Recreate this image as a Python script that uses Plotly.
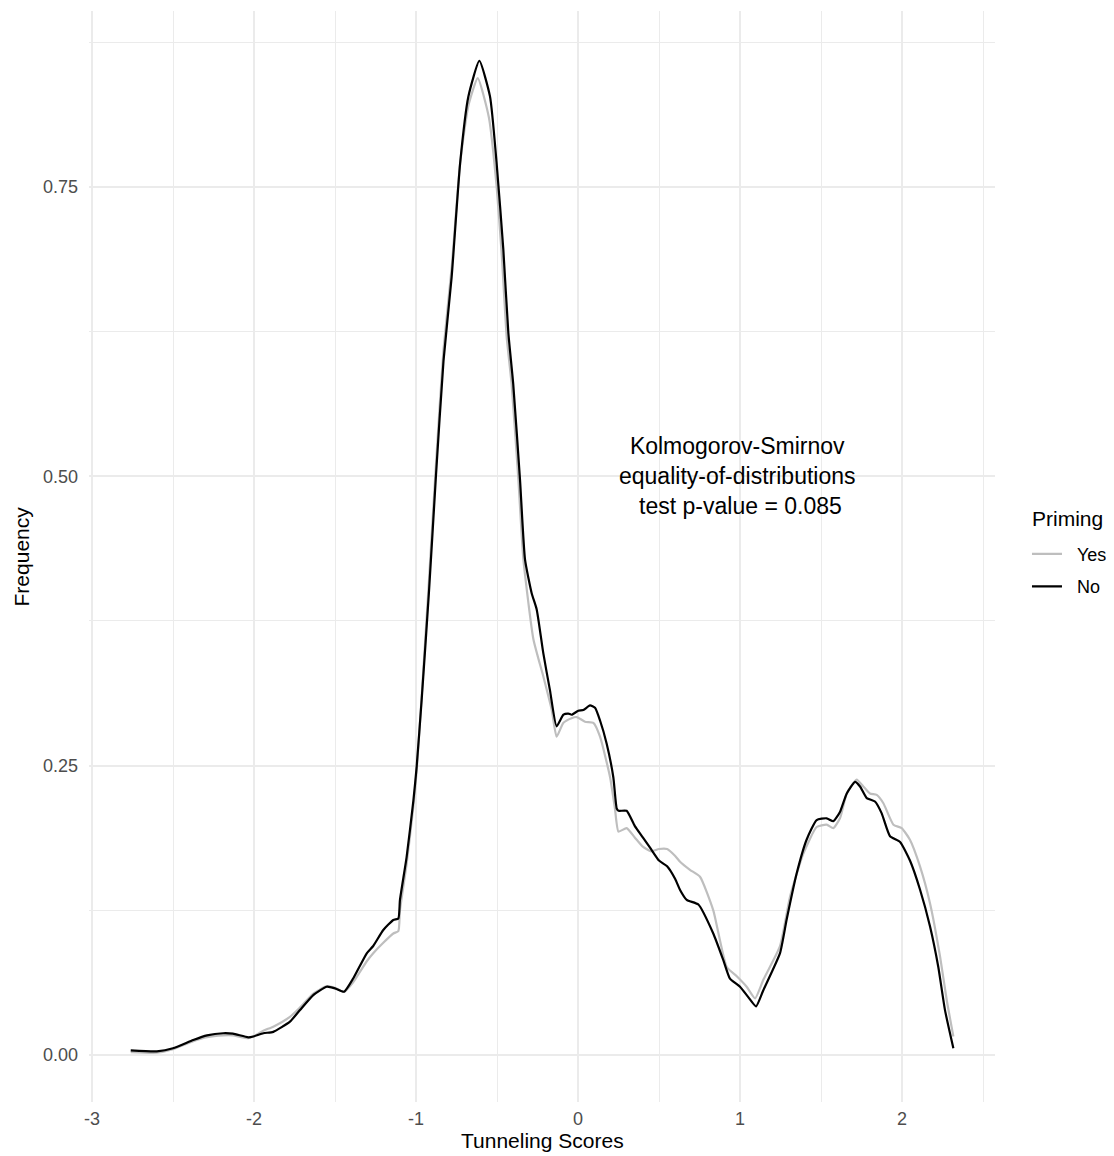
import plotly.graph_objects as go

# Priming = No (black)
no_x = [-2.761, -2.60, -2.50, -2.375, -2.29, -2.19, -2.13, -2.035, -2.004, -1.942, -1.881,
        -1.778, -1.716, -1.634, -1.551, -1.50, -1.444, -1.387, -1.304, -1.264, -1.202, -1.14,
        -1.109, -1.099, -1.058, -1.016, -0.996, -0.965, -0.92, -0.877, -0.83, -0.78, -0.728,
        -0.677, -0.609, -0.543, -0.502, -0.461, -0.43, -0.40, -0.358, -0.327, -0.286, -0.255,
        -0.214, -0.173, -0.132, -0.09, -0.06, -0.039, 0.002, 0.033, 0.074, 0.105, 0.136, 0.177,
        0.218, 0.239, 0.25, 0.30, 0.35, 0.40, 0.45, 0.50, 0.55, 0.60, 0.63, 0.671, 0.743, 0.835,
        0.897, 0.938, 1.0, 1.051, 1.099, 1.144, 1.247, 1.288, 1.35, 1.411, 1.473, 1.535, 1.576,
        1.617, 1.659, 1.71, 1.741, 1.782, 1.833, 1.874, 1.926, 1.988, 2.049, 2.111, 2.173,
        2.224, 2.265, 2.317]
no_y = [0.004, 0.0032, 0.0058, 0.013, 0.017, 0.0188, 0.0184, 0.0153, 0.016, 0.0188, 0.020,
        0.0288, 0.0389, 0.0518, 0.059, 0.0576, 0.0547, 0.0663, 0.0879, 0.0942, 0.108, 0.1167,
        0.118, 0.134, 0.171, 0.220, 0.249, 0.307, 0.40, 0.50, 0.60, 0.672, 0.770,
        0.828, 0.859, 0.828, 0.770, 0.696, 0.624, 0.580, 0.497, 0.428, 0.399, 0.385,
        0.347, 0.315, 0.284, 0.294, 0.295, 0.294, 0.2975, 0.298, 0.302, 0.300, 0.289, 0.269,
        0.240, 0.213, 0.211, 0.211, 0.198, 0.188, 0.178, 0.168, 0.163, 0.152, 0.1426, 0.134, 0.130, 0.105,
        0.082, 0.066, 0.059, 0.050, 0.042, 0.056, 0.088, 0.117, 0.157, 0.186, 0.203, 0.2045, 0.202,
        0.210, 0.226, 0.236, 0.232, 0.222, 0.219, 0.209, 0.189, 0.184, 0.168, 0.143, 0.111,
        0.076, 0.039, 0.0058]

# Priming = Yes (grey)
yes_x = [-2.761, -2.60, -2.50, -2.375, -2.29, -2.19, -2.13, -2.035, -2.004, -1.942, -1.881,
         -1.778, -1.716, -1.634, -1.551, -1.50, -1.444, -1.387, -1.304, -1.264, -1.202, -1.14,
         -1.109, -1.099, -1.058, -1.016, -0.996, -0.965, -0.92, -0.877, -0.83, -0.78, -0.728,
         -0.677, -0.619, -0.55, -0.502, -0.47, -0.44, -0.41, -0.368, -0.337, -0.275, -0.214,
         -0.162, -0.132, -0.09, -0.04, -0.008, 0.043, 0.095, 0.136, 0.198, 0.228, 0.25, 0.30,
         0.35, 0.40, 0.45, 0.50, 0.55, 0.60, 0.63, 0.691, 0.753, 0.835, 0.918, 0.98, 1.041,
         1.093, 1.144, 1.247, 1.309, 1.391, 1.473, 1.535, 1.576, 1.617, 1.659, 1.72, 1.761,
         1.802, 1.844, 1.885, 1.947, 1.998, 2.049, 2.111, 2.173, 2.235, 2.276, 2.317]
yes_y = [0.0025, 0.002, 0.005, 0.012, 0.0155, 0.017, 0.017, 0.0145, 0.016, 0.021, 0.0245,
         0.033, 0.041, 0.053, 0.0595, 0.058, 0.0545, 0.063, 0.081, 0.088, 0.097, 0.105,
         0.107, 0.125, 0.165, 0.215, 0.245, 0.31, 0.41, 0.51, 0.61, 0.68, 0.77,
         0.82, 0.844, 0.81, 0.75, 0.69, 0.62, 0.58, 0.497, 0.428, 0.359, 0.327,
         0.298, 0.275, 0.287, 0.291, 0.292, 0.288, 0.287, 0.275, 0.240, 0.213, 0.193, 0.196,
         0.188, 0.180, 0.176, 0.178, 0.178, 0.172, 0.167, 0.160, 0.154, 0.125, 0.076, 0.068, 0.059,
         0.049, 0.065, 0.094, 0.137, 0.174, 0.197, 0.199, 0.196, 0.2045, 0.226, 0.238, 0.232,
         0.226, 0.2247, 0.2175, 0.199, 0.196, 0.186, 0.163, 0.131, 0.085, 0.0475, 0.016]

x_ticks = [-3, -2, -1, 0, 1, 2]
x_tick_labels = ["-3", "-2", "-1", "0", "1", "2"]
x_minor = [-2.5, -1.5, -0.5, 0.5, 1.5, 2.5]
y_ticks = [0.0, 0.25, 0.5, 0.75]
y_tick_labels = ["0.00", "0.25", "0.50", "0.75"]
y_minor = [0.125, 0.375, 0.625, 0.875]

FONT = "Liberation Sans, Arial, sans-serif"

fig = go.Figure()
fig.add_trace(go.Scatter(x=yes_x, y=yes_y, mode="lines", name="\u00a0\u00a0Yes", legendgroup="yes",
                         line=dict(color="#BEBEBE", width=2.2, shape="spline", smoothing=0.5)))
fig.add_trace(go.Scatter(x=no_x, y=no_y, mode="lines", name="\u00a0\u00a0No", legendgroup="no",
                         line=dict(color="#000000", width=2.2, shape="spline", smoothing=0.5)))

fig.add_annotation(x=0.985, y=0.5, xref="x", yref="y",
                   text="Kolmogorov-Smirnov<br>equality-of-distributions<br>\u00a0test p-value = 0.085",
                   showarrow=False, align="center",
                   font=dict(family=FONT, size=23, color="#000000"))

# axis titles
fig.add_annotation(x=0.5, y=-0.0357, xref="paper", yref="paper", yanchor="middle",
                   text="Tunneling Scores", showarrow=False,
                   font=dict(family=FONT, size=21, color="#000000"))
fig.add_annotation(x=-0.074, y=0.5, xref="paper", yref="paper", xanchor="center",
                   text="Frequency", showarrow=False, textangle=-90,
                   font=dict(family=FONT, size=21, color="#000000"))
# legend title
fig.add_annotation(x=1.0386, y=0.5344, xref="paper", yref="paper", xanchor="left", yanchor="middle",
                   text="Priming", showarrow=False,
                   font=dict(family=FONT, size=21, color="#000000"))

grid_major = "#EBEBEB"
fig.update_layout(
    width=1106, height=1148,
    margin=dict(l=81, r=119, t=3, b=54, autoexpand=False),
    paper_bgcolor="white", plot_bgcolor="white",
    font=dict(family=FONT),
    showlegend=True,
    legend=dict(font=dict(size=18, color="#000000"),
                x=1.0353, xanchor="left", y=0.519, yanchor="top",
                tracegroupgap=6,
                bgcolor="rgba(0,0,0,0)", itemwidth=30),
    xaxis=dict(range=[-3.0185, 2.574], tickvals=x_ticks, ticktext=x_tick_labels,
               showgrid=True, gridcolor=grid_major, gridwidth=2, zeroline=False,
               showline=False, ticks="", tickfont=dict(size=18, color="#4D4D4D"),
               automargin=False, ticklabelstandoff=4,
               minor=dict(tickvals=x_minor, showgrid=True,
                          gridcolor=grid_major, gridwidth=1, ticks="")),
    yaxis=dict(range=[-0.0406, 0.902], tickvals=y_ticks, ticktext=y_tick_labels,
               showgrid=True, gridcolor=grid_major, gridwidth=2, zeroline=False,
               showline=False, ticks="", tickfont=dict(size=18, color="#4D4D4D"),
               automargin=False, ticklabelstandoff=10,
               minor=dict(tickvals=y_minor, showgrid=True,
                          gridcolor=grid_major, gridwidth=1, ticks="")),
)

fig.write_html("out.html")
